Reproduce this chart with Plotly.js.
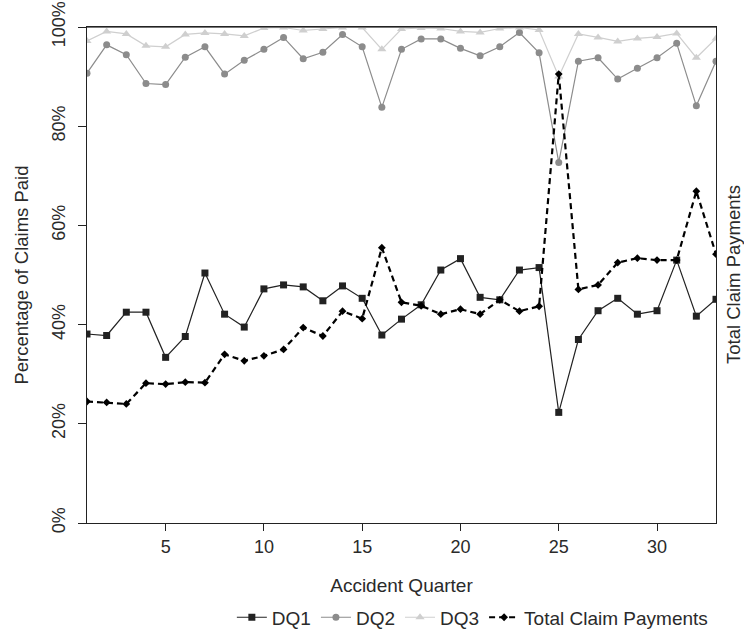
<!DOCTYPE html>
<html><head><meta charset="utf-8">
<script src="https://cdn.plot.ly/plotly-3.0.1.min.js"></script>
<style>body{margin:0;background:#fff}#c{width:744px;height:630px}</style>
</head><body><div id="c"></div>
<script>
const quarters = Array.from({length:33},(_,i)=>i+1);
const dq1 = [38.1,37.8,42.5,42.5,33.4,37.6,50.4,42.1,39.5,47.2,48.0,47.6,44.8,47.8,45.3,37.9,41.1,44.0,51.0,53.3,45.5,45.0,51.0,51.5,22.3,37.0,42.8,45.3,42.1,42.8,53.0,41.7,45.1];
const dq2 = [90.7,96.4,94.4,88.6,88.4,93.9,96.0,90.5,93.3,95.5,97.9,93.6,94.9,98.5,96.0,83.8,95.5,97.6,97.6,95.7,94.2,96.0,98.9,94.8,72.7,93.1,93.8,89.5,91.7,93.8,96.7,84.1,93.1];
const dq3 = [97.2,99.1,98.6,96.2,96.0,98.5,98.8,98.6,98.2,99.8,99.9,99.3,99.6,99.9,99.9,95.5,99.6,99.8,99.7,99.1,98.9,99.7,99.9,99.4,90.0,98.6,97.9,97.1,97.7,98.0,98.7,93.8,97.7];
const totalPay = [24.5,24.3,24.0,28.2,28.0,28.4,28.3,34.0,32.7,33.7,35.0,39.4,37.7,42.7,41.2,55.5,44.5,43.8,42.1,43.1,42.1,45.0,42.7,43.7,90.5,47.1,48.0,52.5,53.4,53.0,53.0,66.9,54.2];

const fam = '"Liberation Sans", Arial, sans-serif';
const txt = '#2a2a2a';
const traces = [
 {x:quarters, y:dq1, name:'DQ1', mode:'lines+markers', line:{color:'#222',width:1.2}, marker:{symbol:'square',size:7,color:'#222'}},
 {x:quarters, y:dq2, name:'DQ2', mode:'lines+markers', line:{color:'#8c8c8c',width:1.2}, marker:{symbol:'circle',size:7,color:'#8c8c8c'}},
 {x:quarters, y:dq3, name:'DQ3', mode:'lines+markers', line:{color:'#cfcfcf',width:1.2}, marker:{symbol:'triangle-up',size:8,color:'#cfcfcf'}},
 {x:quarters, y:totalPay, name:'Total Claim Payments', mode:'lines+markers', line:{color:'#000',width:2.2,dash:'6px,4px'}, marker:{symbol:'diamond',size:6,color:'#000'}}
];
const layout = {
 width:744, height:630, font:{family:fam, size:18, color:txt}, paper_bgcolor:'#fff', plot_bgcolor:'#fff',
 margin:{l:87, r:28, t:27, b:107},
 showlegend:true,
 legend:{orientation:'h', x:0.995, xanchor:'right', yref:'container', y:0.02, yanchor:'middle',
   font:{size:19,color:txt}, itemwidth:30, tracegroupgap:0},
 xaxis:{range:[1,33], tickvals:[5,10,15,20,25,30], ticks:'outside', ticklen:7, tickcolor:'#222',
   tickfont:{size:18}, showgrid:false, zeroline:false, showline:true, linecolor:'#222', linewidth:1, mirror:true,
   title:{text:'Accident Quarter', font:{size:19}, standoff:23}},
 yaxis:{range:[0,100], tickvals:[0,20,40,60,80,100], ticktext:['0%','20%','40%','60%','80%','100%'],
   tickangle:-90, ticks:'outside', ticklen:8, tickcolor:'#222', tickfont:{size:18}, ticklabelstandoff:6,
   showgrid:false, zeroline:false,
   showline:true, linecolor:'#222', linewidth:1, mirror:true,
   title:{text:'Percentage of Claims Paid', font:{size:18.5}, standoff:15}},
 shapes:[{type:'line', xref:'paper', x0:0, x1:1, yref:'y', y0:100, y1:100, line:{color:'#777', width:2}}],
 annotations:[{text:'Total Claim Payments', xref:'paper', yref:'paper', x:1, y:0.5, xanchor:'center', yanchor:'middle',
   xshift:17, textangle:-90, showarrow:false, font:{size:18.5,color:txt}}]
};
Plotly.newPlot('c', traces, layout, {displayModeBar:false, staticPlot:true});
</script></body></html>
